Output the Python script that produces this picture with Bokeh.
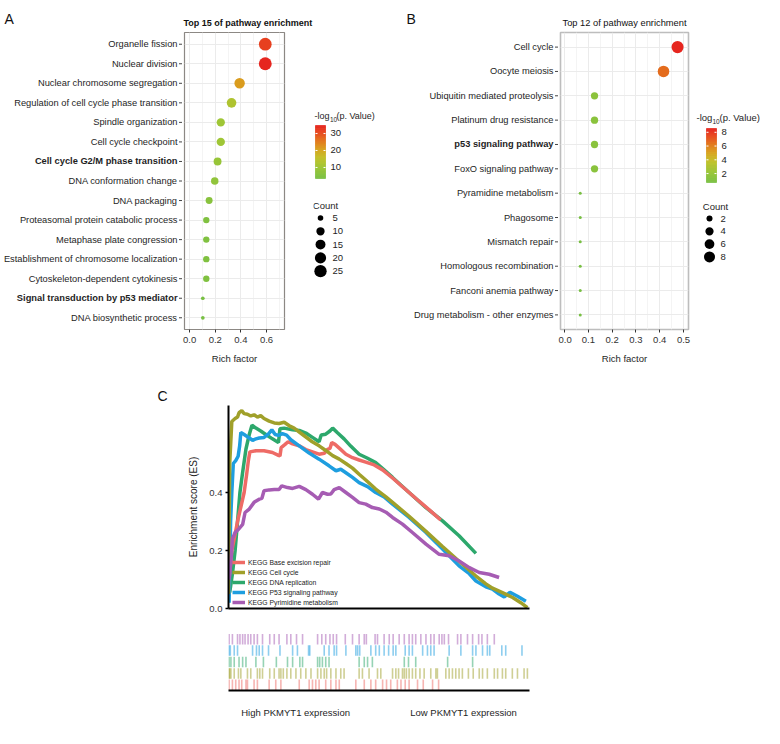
import numpy as np
from bokeh.plotting import figure
from bokeh.layouts import row, column
from bokeh.models import (FactorRange, Range1d, LinearColorMapper, FixedTicker,
                          ColumnDataSource, Legend, LegendItem, PrintfTickFormatter)
from bokeh.core.properties import value
from bokeh.transform import transform
from bokeh.embed import file_html
from bokeh.resources import INLINE

FONT = "Liberation Sans"
INK = "#1e1e1e"
FS_LBL = "9.3px"
FS = "9.5px"

# ---------------- Panel A: GO enrichment ----------------
a_terms = ["Organelle fission", "Nuclear division", "Nuclear chromosome segregation",
           "Regulation of cell cycle phase transition", "Spindle organization",
           "Cell cycle checkpoint", "Cell cycle G2/M phase transition",
           "DNA conformation change", "DNA packaging",
           "Proteasomal protein catabolic process", "Metaphase plate congression",
           "Establishment of chromosome localization", "Cytoskeleton-dependent cytokinesis",
           "Signal transduction by p53 mediator", "DNA biosynthetic process"]
a_rich = [0.59, 0.59, 0.39, 0.327, 0.243, 0.243, 0.218, 0.196, 0.152,
          0.13, 0.13, 0.13, 0.13, 0.103, 0.103]
a_logp = [31.6, 34.7, 21.6, 12.9, 10.4, 10.4, 9.1, 7.9, 6.5, 5.0, 5.0, 5.0, 5.0, 3.6, 3.5]
a_count = [27, 28, 17, 14, 10, 10, 9, 8, 7, 6, 6, 6, 6, 4, 4]
a_bold_terms = ["Cell cycle G2/M phase transition", "Signal transduction by p53 mediator"]
a_xticks = [0.0, 0.2, 0.4, 0.6]
a_xminor = [0.1, 0.3, 0.5, 0.7]
a_count_breaks = [5, 10, 15, 20, 25]
a_color_breaks = [10, 20, 30]

# ---------------- Panel B: KEGG enrichment ----------------
b_terms = ["Cell cycle", "Oocyte meiosis", "Ubiquitin mediated proteolysis",
           "Platinum drug resistance", "p53 signaling pathway", "FoxO signaling pathway",
           "Pyramidine metabolism", "Phagosome", "Mismatch repair",
           "Homologous recombination", "Fanconi anemia pathway",
           "Drug metabolism - other enzymes"]
b_rich = [0.475, 0.416, 0.126, 0.126, 0.126, 0.126, 0.066, 0.066, 0.066, 0.066, 0.066, 0.066]
b_logp = [8.55, 6.6, 1.6, 1.5, 1.5, 1.5, 0.75, 0.72, 0.72, 0.7, 0.7, 0.7]
b_count = [10, 9, 3, 3, 3, 3, 1, 1, 1, 1, 1, 1]
b_bold_terms = ["p53 signaling pathway"]
b_xticks = [0.0, 0.1, 0.2, 0.3, 0.4, 0.5]
b_xminor = [0.05, 0.15, 0.25, 0.35, 0.45]
b_count_breaks = [2, 4, 6, 8]
b_color_breaks = [2, 4, 6, 8]

# ---------------- Panel C: GSEA running enrichment scores ----------------
gsea_names = ["KEGG Base excision repair", "KEGG Cell cycle", "KEGG DNA replication",
              "KEGG P53 signaling pathway", "KEGG Pyrimidine metabolism"]
gsea_colors = ["#EE6B66", "#A0A02A", "#2DA86C", "#1E9EDF", "#A65CB3"]

ber_rank = [2, 11, 19, 30, 41, 52, 60, 66, 71, 91, 118, 146, 166, 171, 175, 188, 198, 213,
            235, 257, 279, 301, 318, 329, 337, 343, 354, 368, 390, 412, 434, 456, 484, 512,
            545, 578, 600, 633, 667, 705]
ber_es = [0.10, 0.20, 0.24, 0.30, 0.35, 0.40, 0.46, 0.51, 0.54, 0.544, 0.544, 0.538, 0.528,
          0.526, 0.555, 0.566, 0.575, 0.568, 0.561, 0.548, 0.540, 0.532, 0.535, 0.549, 0.552,
          0.572, 0.566, 0.553, 0.532, 0.520, 0.512, 0.505, 0.495, 0.478, 0.450, 0.420, 0.400,
          0.370, 0.340, 0.305]

cc_rank = [0, 4, 11, 22, 30, 35, 44, 52, 63, 74, 85, 96, 107, 118, 135, 152, 168, 185, 202,
           218, 246, 274, 301, 323, 346, 368, 390, 412, 434, 456, 489, 523, 545, 600, 656,
           711, 766, 822, 855, 877, 910, 944, 971, 993]
cc_es = [0.05, 0.50, 0.645, 0.655, 0.66, 0.675, 0.682, 0.672, 0.670, 0.664, 0.668, 0.660,
         0.665, 0.655, 0.646, 0.640, 0.638, 0.642, 0.630, 0.622, 0.600, 0.578, 0.561, 0.545,
         0.527, 0.515, 0.500, 0.484, 0.463, 0.443, 0.412, 0.385, 0.366, 0.318, 0.266, 0.214,
         0.163, 0.112, 0.085, 0.070, 0.055, 0.038, 0.020, 0.003]

dna_rank = [4, 13, 22, 30, 38, 47, 58, 69, 78, 91, 107, 124, 146, 166, 171, 185, 213, 235,
            257, 279, 301, 308, 323, 337, 346, 362, 384, 406, 434, 462, 489, 517, 545, 600,
            656, 711, 766, 822]
dna_es = [0.055, 0.12, 0.20, 0.30, 0.40, 0.47, 0.55, 0.60, 0.632, 0.622, 0.612, 0.600, 0.585,
          0.572, 0.620, 0.622, 0.616, 0.614, 0.605, 0.590, 0.575, 0.598, 0.601, 0.612, 0.622,
          0.606, 0.585, 0.560, 0.532, 0.518, 0.503, 0.478, 0.452, 0.400, 0.348, 0.302, 0.251,
          0.190]

p53_rank = [2, 7, 11, 16, 24, 32, 37, 41, 52, 63, 80, 91, 102, 118, 133, 144, 155, 166, 179,
            193, 207, 235, 268, 301, 334, 357, 373, 390, 412, 434, 462, 489, 517, 545, 600,
            656, 711, 766, 800, 822, 855, 877, 899, 916, 935, 960, 988]
p53_es = [0.02, 0.30, 0.40, 0.50, 0.51, 0.525, 0.56, 0.607, 0.600, 0.592, 0.580, 0.585, 0.588,
          0.590, 0.602, 0.616, 0.600, 0.597, 0.603, 0.598, 0.582, 0.561, 0.536, 0.515, 0.492,
          0.475, 0.480, 0.468, 0.452, 0.434, 0.420, 0.400, 0.385, 0.360, 0.314, 0.262, 0.205,
          0.147, 0.120, 0.095, 0.075, 0.067, 0.050, 0.040, 0.056, 0.042, 0.025]

pyr_rank = [2, 8, 13, 22, 35, 47, 55, 69, 85, 102, 111, 118, 135, 152, 168, 177, 196, 213,
            235, 257, 279, 299, 312, 329, 340, 351, 368, 390, 412, 434, 456, 478, 501, 523,
            545, 578, 611, 656, 700, 733, 766, 800, 833, 866, 899]
pyr_es = [0.10, 0.16, 0.24, 0.262, 0.275, 0.29, 0.331, 0.343, 0.366, 0.377, 0.38, 0.406,
          0.409, 0.41, 0.41, 0.423, 0.417, 0.414, 0.421, 0.410, 0.394, 0.377, 0.40, 0.394,
          0.395, 0.410, 0.417, 0.400, 0.383, 0.365, 0.36, 0.348, 0.343, 0.332, 0.314, 0.291,
          0.262, 0.222, 0.187, 0.182, 0.164, 0.141, 0.124, 0.118, 0.107]

# gene-set member positions in the ranked list (rug)
ber_hits = [2, 13, 24, 35, 44, 58, 63, 85, 96, 135, 157, 174, 235, 268, 279, 290, 301, 323,
            340, 357, 368, 423, 451, 473, 489, 512, 525, 539, 561, 573, 587, 600, 628, 647,
            678, 698]
cc_hits = [2, 4, 8, 19, 33, 41, 63, 74, 96, 104, 113, 137, 152, 168, 174, 182, 194, 207, 224,
           240, 257, 274, 296, 307, 318, 326, 340, 357, 373, 384, 434, 445, 467, 495, 506, 545,
           556, 565, 578, 584, 591, 600, 611, 622, 636, 650, 672, 689, 694, 722, 733, 744, 755,
           766, 777, 797, 813, 833, 844, 860, 883, 894, 910, 921, 943, 960, 982, 993]
dna_hits = [2, 8, 19, 35, 47, 58, 91, 116, 159, 196, 213, 237, 246, 296, 303, 312, 323, 334,
            434, 451, 462, 478, 584, 598, 622, 728, 811]
p53_hits = [2, 6, 19, 30, 80, 93, 102, 113, 133, 171, 213, 229, 266, 270, 318, 334, 351, 359,
            390, 423, 429, 436, 473, 489, 501, 517, 532, 547, 556, 587, 600, 611, 645, 661,
            672, 683, 733, 772, 811, 822, 844, 860, 868, 908, 921, 975]
pyr_hits = [2, 13, 30, 38, 47, 55, 65, 74, 85, 96, 113, 137, 152, 168, 194, 207, 226, 246,
            296, 310, 323, 337, 348, 359, 388, 412, 434, 451, 458, 487, 495, 517, 534, 547,
            567, 584, 600, 611, 622, 639, 656, 672, 683, 700, 709, 717, 731, 761, 772, 794,
            811, 831, 842, 860, 883]

es_yticks = [0.0, 0.2, 0.4]
rug_label_pos = [223, 781]
rug_labels = ["High PKMYT1 expression", "Low PKMYT1 expression"]


# ---------------- helpers ----------------
def gradient_palette(stops, n=256):
    pos = np.array([s[0] for s in stops])
    rgb = np.array([[int(c[i:i + 2], 16) for i in (1, 3, 5)] for _, c in stops], float)
    t = np.linspace(0, 1, n)
    cols = np.stack([np.interp(t, pos, rgb[:, k]) for k in range(3)], axis=1)
    return ["#%02x%02x%02x" % tuple(int(round(v)) for v in c) for c in cols]


PALETTE = gradient_palette([(0.0, "#78BF43"), (0.2, "#9BC637"), (0.4, "#C3C129"),
                            (0.55, "#D8A41E"), (0.72, "#E3761D"), (0.87, "#E7491F"),
                            (1.0, "#E6261F")])


def dot_size(c, cmin, cmax, dmin, dmax):
    c = np.asarray(c, float)
    return dmin + (dmax - dmin) * np.sqrt(np.clip((c - cmin) / (cmax - cmin), 0, 1))


def set_title(p, text, align, size, style, standoff, offset=0):
    p.title.text = text
    p.title.align = align
    p.title.text_font = FONT
    p.title.text_font_size = size
    p.title.text_font_style = style
    p.title.text_color = "#111111"
    p.title.standoff = standoff
    p.title.offset = offset


# shared vertical geometry of the top row (page pixels)
TOP_H = 380
FR_TOP, FR_BOT = 40, 337
BT, BB = FR_TOP - 8, 8 + TOP_H - FR_BOT
ROW_PAD = 0.1   # factor-range padding (category units) on each end


def blank_fig(page_x0, w, y_range):
    p = figure(width=w, height=TOP_H, x_range=Range1d(page_x0, page_x0 + w), y_range=y_range,
               x_axis_type=None, y_axis_type=None, output_backend="svg",
               toolbar_location=None, min_border_left=0, min_border_right=0,
               min_border_top=BT, min_border_bottom=BB)
    p.grid.visible = False
    p.outline_line_color = None
    return p


def dot_panel(terms, rich, logp, count, bold_terms, sizes, xr, xticks, xminor, title,
              title_style, title_size, title_align, lab_x0, lab_w, w, right, outline,
              letter, letter_x):
    src = ColumnDataSource(dict(term=terms, rich=rich, logp=logp, count=count,
                                size=dot_size(count, min(count), max(count), *sizes),
                                style=["bold" if t in bold_terms else "normal" for t in terms]))
    mapper = LinearColorMapper(palette=PALETTE, low=min(logp), high=max(logp))
    yr = FactorRange(factors=terms[::-1], range_padding=ROW_PAD, range_padding_units="absolute")

    # category names: text glyphs in a narrow panel sharing the y (category) range
    lab = blank_fig(lab_x0, lab_w, yr)
    right_edge = lab_x0 + lab_w
    lab.text(x=right_edge - 5, y="term", text="term", source=src, text_align="right",
             text_baseline="middle", text_font=value(FONT), text_font_size=value(FS_LBL),
             text_font_style="style", text_color=INK)
    lab.segment(x0=right_edge - 3.5, x1=right_edge, y0="term", y1="term", source=src,
                line_color="#444444", line_width=1)
    set_title(lab, letter, "left", "14px", "normal", 12, letter_x - lab_x0)

    p = figure(width=w, height=TOP_H, x_range=Range1d(*xr), y_range=yr,
               output_backend="svg", toolbar_location=None,
               min_border_left=2, min_border_right=right,
               min_border_top=BT, min_border_bottom=BB)
    p.outline_line_color = outline[0]
    p.outline_line_width = outline[1]
    p.xgrid.grid_line_color = "#EBEBEB"
    p.xgrid.minor_grid_line_color = "#F4F4F4"
    p.ygrid.grid_line_color = "#EBEBEB"
    p.scatter(x="rich", y="term", size="size", source=src,
              fill_color=transform("logp", mapper), line_color=None)
    p.yaxis.visible = False
    ax = p.xaxis[0]
    ax.ticker = FixedTicker(ticks=xticks, minor_ticks=xminor)
    ax.formatter = PrintfTickFormatter(format="%.1f")
    ax.axis_line_color = None
    ax.major_tick_line_color = "#333333"
    ax.major_tick_out = 3
    ax.major_tick_in = 0
    ax.minor_tick_line_color = None
    ax.major_label_text_font = FONT
    ax.major_label_text_font_size = FS
    ax.major_label_text_color = "#333333"
    ax.major_label_standoff = 3
    ax.axis_label = "Rich factor"
    ax.axis_label_text_font = FONT
    ax.axis_label_text_font_size = "9.5px"
    ax.axis_label_text_font_style = "normal"
    ax.axis_label_text_color = INK
    ax.axis_label_standoff = 7
    set_title(p, title, title_align[0], title_size, title_style, 10, title_align[1])
    return lab, p, mapper


def legend_panel(page_x0, w, mapper, low, high, color_breaks, count_breaks, count, sizes, lay):
    # axes-free panel whose data coordinates are page pixels
    lp = blank_fig(page_x0, w, Range1d(FR_BOT, FR_TOP))
    (t0, t1, t2), ty, tfs = lay["title"]
    lp.text(x=[t0, t2], y=[ty, ty], text=["-log", "(p. Value)"],
            text_font=value(FONT), text_font_size=value(tfs),
            text_baseline="middle", text_align="left", text_color=INK)
    lp.text(x=[t1], y=[ty + 4], text=["10"], text_font=value(FONT),
            text_font_size=value("6.5px"), text_baseline="middle", text_align="left",
            text_color=INK)
    bx0, bx1, btop, bbot = lay["bar"]

    def ypos(v):
        return bbot - (np.asarray(v, float) - low) / (high - low) * (bbot - btop)

    edges = np.linspace(low, high, 81)
    bar = ColumnDataSource(dict(v=(edges[:-1] + edges[1:]) / 2, b=ypos(edges[:-1]),
                                t=ypos(edges[1:])))
    lp.quad(left=bx0, right=bx1, bottom="b", top="t", source=bar,
            fill_color=transform("v", mapper), line_color=transform("v", mapper),
            line_width=0.6)
    yt = ypos(color_breaks)
    k = len(color_breaks)
    lp.segment(x0=[bx0] * k, x1=[bx0 + 2] * k, y0=yt, y1=yt, line_color="white", line_width=1)
    lp.segment(x0=[bx1 - 2] * k, x1=[bx1] * k, y0=yt, y1=yt, line_color="white", line_width=1)
    lp.text(x=[bx1 + 5] * k, y=yt, text=[str(b) for b in color_breaks],
            text_font=value(FONT), text_font_size=value(FS), text_baseline="middle",
            text_align="left", text_color=INK)
    cx, cy = lay["count_title"]
    lp.text(x=[cx], y=[cy], text=["Count"], text_font=value(FONT),
            text_font_size=value(FS), text_baseline="middle", text_align="center",
            text_color=INK)
    dx, lx, y0, step = lay["dots"]
    ys = [y0 + i * step for i in range(len(count_breaks))]
    lp.scatter(x=[dx] * len(count_breaks), y=ys,
               size=dot_size(count_breaks, min(count), max(count), *sizes),
               fill_color="black", line_color=None)
    lp.text(x=[lx] * len(count_breaks), y=ys, text=[str(b) for b in count_breaks],
            text_font=value(FONT), text_font_size=value(FS), text_baseline="middle",
            text_align="left", text_color=INK)
    return lp


# ---------------- top row ----------------
A_SIZES = (3.7, 12.9)
B_SIZES = (3.0, 12.1)

# panel A: labels 8-190, plot 190-321 (frame 192-292), legend 321-390
labA, pA, mapA = dot_panel(a_terms, a_rich, a_logp, a_count, a_bold_terms, A_SIZES,
                           (-0.04, 0.74), a_xticks, a_xminor, "Top 15 of pathway enrichment",
                           "bold", "9px", ("left", -1), 8, 182, 131, 29, ("#8C8884", 1.2),
                           "A", 12)
legA = legend_panel(321, 69, mapA, min(a_logp), max(a_logp), a_color_breaks,
                    a_count_breaks, a_count, A_SIZES,
                    dict(title=((322, 337.5, 344), 123, "9px"), bar=(323, 333, 133, 186),
                         count_title=(333, 213), dots=(328, 340, 225.5, 13.3)))

# panel B: labels 390-566, plot 566-702 (frame 568-696), legend 702-772
labB, pB, mapB = dot_panel(b_terms, b_rich, b_logp, b_count, b_bold_terms, B_SIZES,
                           (-0.017, 0.521), b_xticks, b_xminor, "Top 12 of pathway enrichment",
                           "normal", "9.3px", ("center", 0), 390, 176, 136, 6,
                           ("#BDBDBD", 1.6), "B", 414)
legB = legend_panel(702, 70, mapB, min(b_logp), max(b_logp), b_color_breaks,
                    b_count_breaks, b_count, B_SIZES,
                    dict(title=((704, 720, 727), 125, "9.5px"), bar=(714, 724, 136, 190),
                         count_title=(723, 214), dots=(717, 728, 226, 12.8)))

# ---------------- GSEA running score ----------------
ES_L, ES_R, ES_T, ES_B = 236, 537, 413, 616   # frame edges in page pixels
es = figure(width=764, height=242, x_range=Range1d(0, 1000), y_range=Range1d(0, 0.7),
            output_backend="svg", toolbar_location=None,
            min_border_left=ES_L - 8, min_border_right=772 - ES_R,
            min_border_top=ES_T - 388, min_border_bottom=388 + 242 - ES_B)
es.grid.visible = False
es.outline_line_color = None
set_title(es, "C", "left", "14px", "normal", 3, 165 - ES_L)
ya = es.yaxis[0]
ya.ticker = FixedTicker(ticks=es_yticks)
ya.formatter = PrintfTickFormatter(format="%.1f")
ya.axis_label = "Enrichment score (ES)"
ya.axis_label_text_font = FONT
ya.axis_label_text_font_size = "10px"
ya.axis_label_text_font_style = "normal"
ya.axis_label_text_color = INK
ya.axis_label_standoff = 7
ya.major_label_text_font = FONT
ya.major_label_text_font_size = FS
ya.major_label_text_color = "#333333"
ya.major_tick_out = 3
ya.major_tick_in = 0
ya.major_tick_line_width = 1.5
ya.major_label_standoff = 3
ya.minor_tick_line_color = None
xa = es.xaxis[0]
xa.ticker = FixedTicker(ticks=[])
xa.major_tick_line_color = None
xa.minor_tick_line_color = None
xa.major_label_standoff = 0
for ax in (xa, ya):
    ax.axis_line_color = "black"
    ax.axis_line_width = 2

curves = [(ber_rank, ber_es), (cc_rank, cc_es), (dna_rank, dna_es),
          (p53_rank, p53_es), (pyr_rank, pyr_es)]
draw_order = [2, 0, 3, 1, 4]
renderers = {}
for i in draw_order:
    xs, ys = curves[i]
    renderers[i] = es.line(xs, ys, line_width=3.5, line_color=gsea_colors[i])
legend = Legend(items=[LegendItem(label=gsea_names[i], renderers=[renderers[i]])
                       for i in range(5)],
                location=(4, 1), orientation="vertical", padding=0, margin=0, spacing=0,
                glyph_width=13, glyph_height=10, label_height=10, label_standoff=3,
                label_text_font=FONT, label_text_font_size="6.8px",
                label_text_color="#222222", background_fill_alpha=0,
                border_line_color=None)
es.add_layout(legend)

# ---------------- rug of gene-set hits ----------------
rug = figure(width=764, height=98, x_range=Range1d(0, 1000),
             y_range=FactorRange(factors=gsea_names), y_axis_type=None,
             output_backend="svg", toolbar_location=None,
             min_border_left=228, min_border_right=235, min_border_top=11, min_border_bottom=27)
rug.grid.visible = False
rug.outline_line_color = None
hits = [ber_hits, cc_hits, dna_hits, p53_hits, pyr_hits]
for name, col, hx in zip(gsea_names, gsea_colors, hits):
    rug.rect(x=hx, y=[name] * len(hx), width=1.6, width_units="screen", height=0.92,
             fill_color=col, fill_alpha=0.5, line_color=None)
ra = rug.xaxis[0]
ra.ticker = FixedTicker(ticks=rug_label_pos)
ra.major_label_overrides = dict(zip(rug_label_pos, rug_labels))
ra.axis_line_color = "black"
ra.axis_line_width = 2
ra.major_tick_line_color = None
ra.minor_tick_line_color = None
ra.major_label_standoff = 10
ra.major_label_text_font = FONT
ra.major_label_text_font_size = "9.5px"
ra.major_label_text_color = INK

page = column(row(labA, pA, legA, labB, pB, legB), es, rug)
open("out.html", "w").write(file_html(page, INLINE))
